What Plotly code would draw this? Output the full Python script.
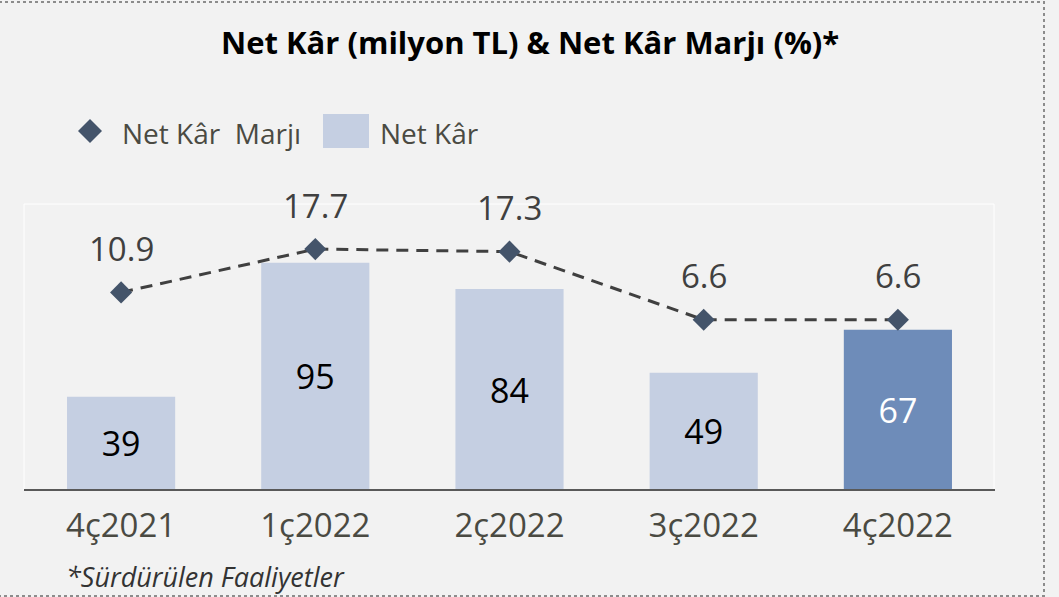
import plotly.graph_objects as go

categories = ["4ç2021", "1ç2022", "2ç2022", "3ç2022", "4ç2022"]
net_kar = [39, 95, 84, 49, 67]
net_kar_marji = [10.9, 17.7, 17.3, 6.6, 6.6]
margin_labels = ["10.9", "17.7", "17.3", "6.6", "6.6"]
bar_colors = ["#c5cfe2", "#c5cfe2", "#c5cfe2", "#c5cfe2", "#6e8cb9"]
bar_text_colors = ["#000000", "#000000", "#000000", "#000000", "#ffffff"]

W, H = 1059, 597
L, R, T, B = 24, 995, 200, 490


def px(x):
    return (x - L) / (R - L)


def py(y):
    return (B - y) / (B - T)


fig = go.Figure()
fig.add_trace(go.Bar(
    x=categories, y=net_kar, marker=dict(color=bar_colors, line=dict(width=0)),
    text=[str(v) for v in net_kar], textposition="inside", insidetextanchor="middle",
    textfont=dict(family="Open Sans", size=34, color=bar_text_colors),
    textangle=0, name="Net Kâr", showlegend=False, hoverinfo="skip"))
fig.add_trace(go.Scatter(
    x=categories, y=net_kar_marji, yaxis="y2", mode="lines+markers",
    line=dict(color="#404040", width=3, dash="12px,8px"),
    marker=dict(symbol="diamond", size=17, color="#44546a"),
    name="Net Kâr  Marjı", showlegend=False, hoverinfo="skip"))

for c, v, t in zip(categories, net_kar_marji, margin_labels):
    fig.add_annotation(x=c, y=v, yref="y2", text=t, showarrow=False,
                       yshift=44, yanchor="middle",
                       font=dict(family="Open Sans", size=33, color="#404040"))

shapes = [
    # plot area frame (white)
    dict(type="rect", xref="paper", yref="paper", x0=0, x1=px(R - 1), y0=0, y1=py(204),
         line=dict(color="#ffffff", width=1), layer="below"),
    # baseline
    dict(type="line", xref="paper", yref="paper", x0=0, x1=1, y0=0, y1=0,
         line=dict(color="#595959", width=2)),
    # outer dotted border
    dict(type="rect", xref="paper", yref="paper", x0=px(-2), x1=px(1044), y0=py(596), y1=py(2),
         line=dict(color="#8c8c8c", width=2, dash="dot")),
    # legend square
    dict(type="rect", xref="paper", yref="paper", x0=px(323), x1=px(369), y0=py(148), y1=py(114),
         fillcolor="#c5cfe2", line=dict(width=0)),
    # legend diamond
    dict(type="path", xref="paper", yref="paper",
         path=f"M {px(78)} {py(131)} L {px(90)} {py(119)} L {px(102)} {py(131)} L {px(90)} {py(143)} Z",
         fillcolor="#44546a", line=dict(width=0)),
]

annotations = [
    dict(xref="paper", yref="paper", x=px(530), y=py(42), text="<b>Net Kâr (milyon TL) &amp; Net Kâr Marjı (%)*</b>",
         showarrow=False, xanchor="center", yanchor="middle",
         font=dict(family="Open Sans", size=31, color="#000000")),
    dict(xref="paper", yref="paper", x=px(120), y=py(133), text="Net Kâr  Marjı",
         showarrow=False, xanchor="left", yanchor="middle",
         font=dict(family="Open Sans", size=28, color="#4a4a42")),
    dict(xref="paper", yref="paper", x=px(378), y=py(133), text="Net Kâr",
         showarrow=False, xanchor="left", yanchor="middle",
         font=dict(family="Open Sans", size=28, color="#4a4a42")),
    dict(xref="paper", yref="paper", x=px(64), y=py(576), text="<i>*Sürdürülen Faaliyetler</i>",
         showarrow=False, xanchor="left", yanchor="middle",
         font=dict(family="Open Sans", size=27, color="#333333")),
]
for a in annotations:
    fig.add_annotation(**a)

fig.update_layout(
    width=W, height=H,
    margin=dict(l=L, r=W - R, t=T, b=H - B, pad=0),
    paper_bgcolor="#f2f2f2", plot_bgcolor="#f2f2f2",
    bargap=0.443, showlegend=False, shapes=shapes,
    xaxis=dict(showgrid=False, showline=False, zeroline=False, ticks="",
               ticklabelstandoff=13,
               tickfont=dict(family="Open Sans", size=33, color="#4a4a42")),
    yaxis=dict(range=[0, 121.2], visible=False, showgrid=False, zeroline=False),
    yaxis2=dict(range=[-20.1, 25.4], overlaying="y", side="right", visible=False,
                showgrid=False, zeroline=False),
)

fig.write_html("out.html", config={"displayModeBar": False},
               post_script="document.body.style.margin='0';document.body.style.overflow='hidden';")
